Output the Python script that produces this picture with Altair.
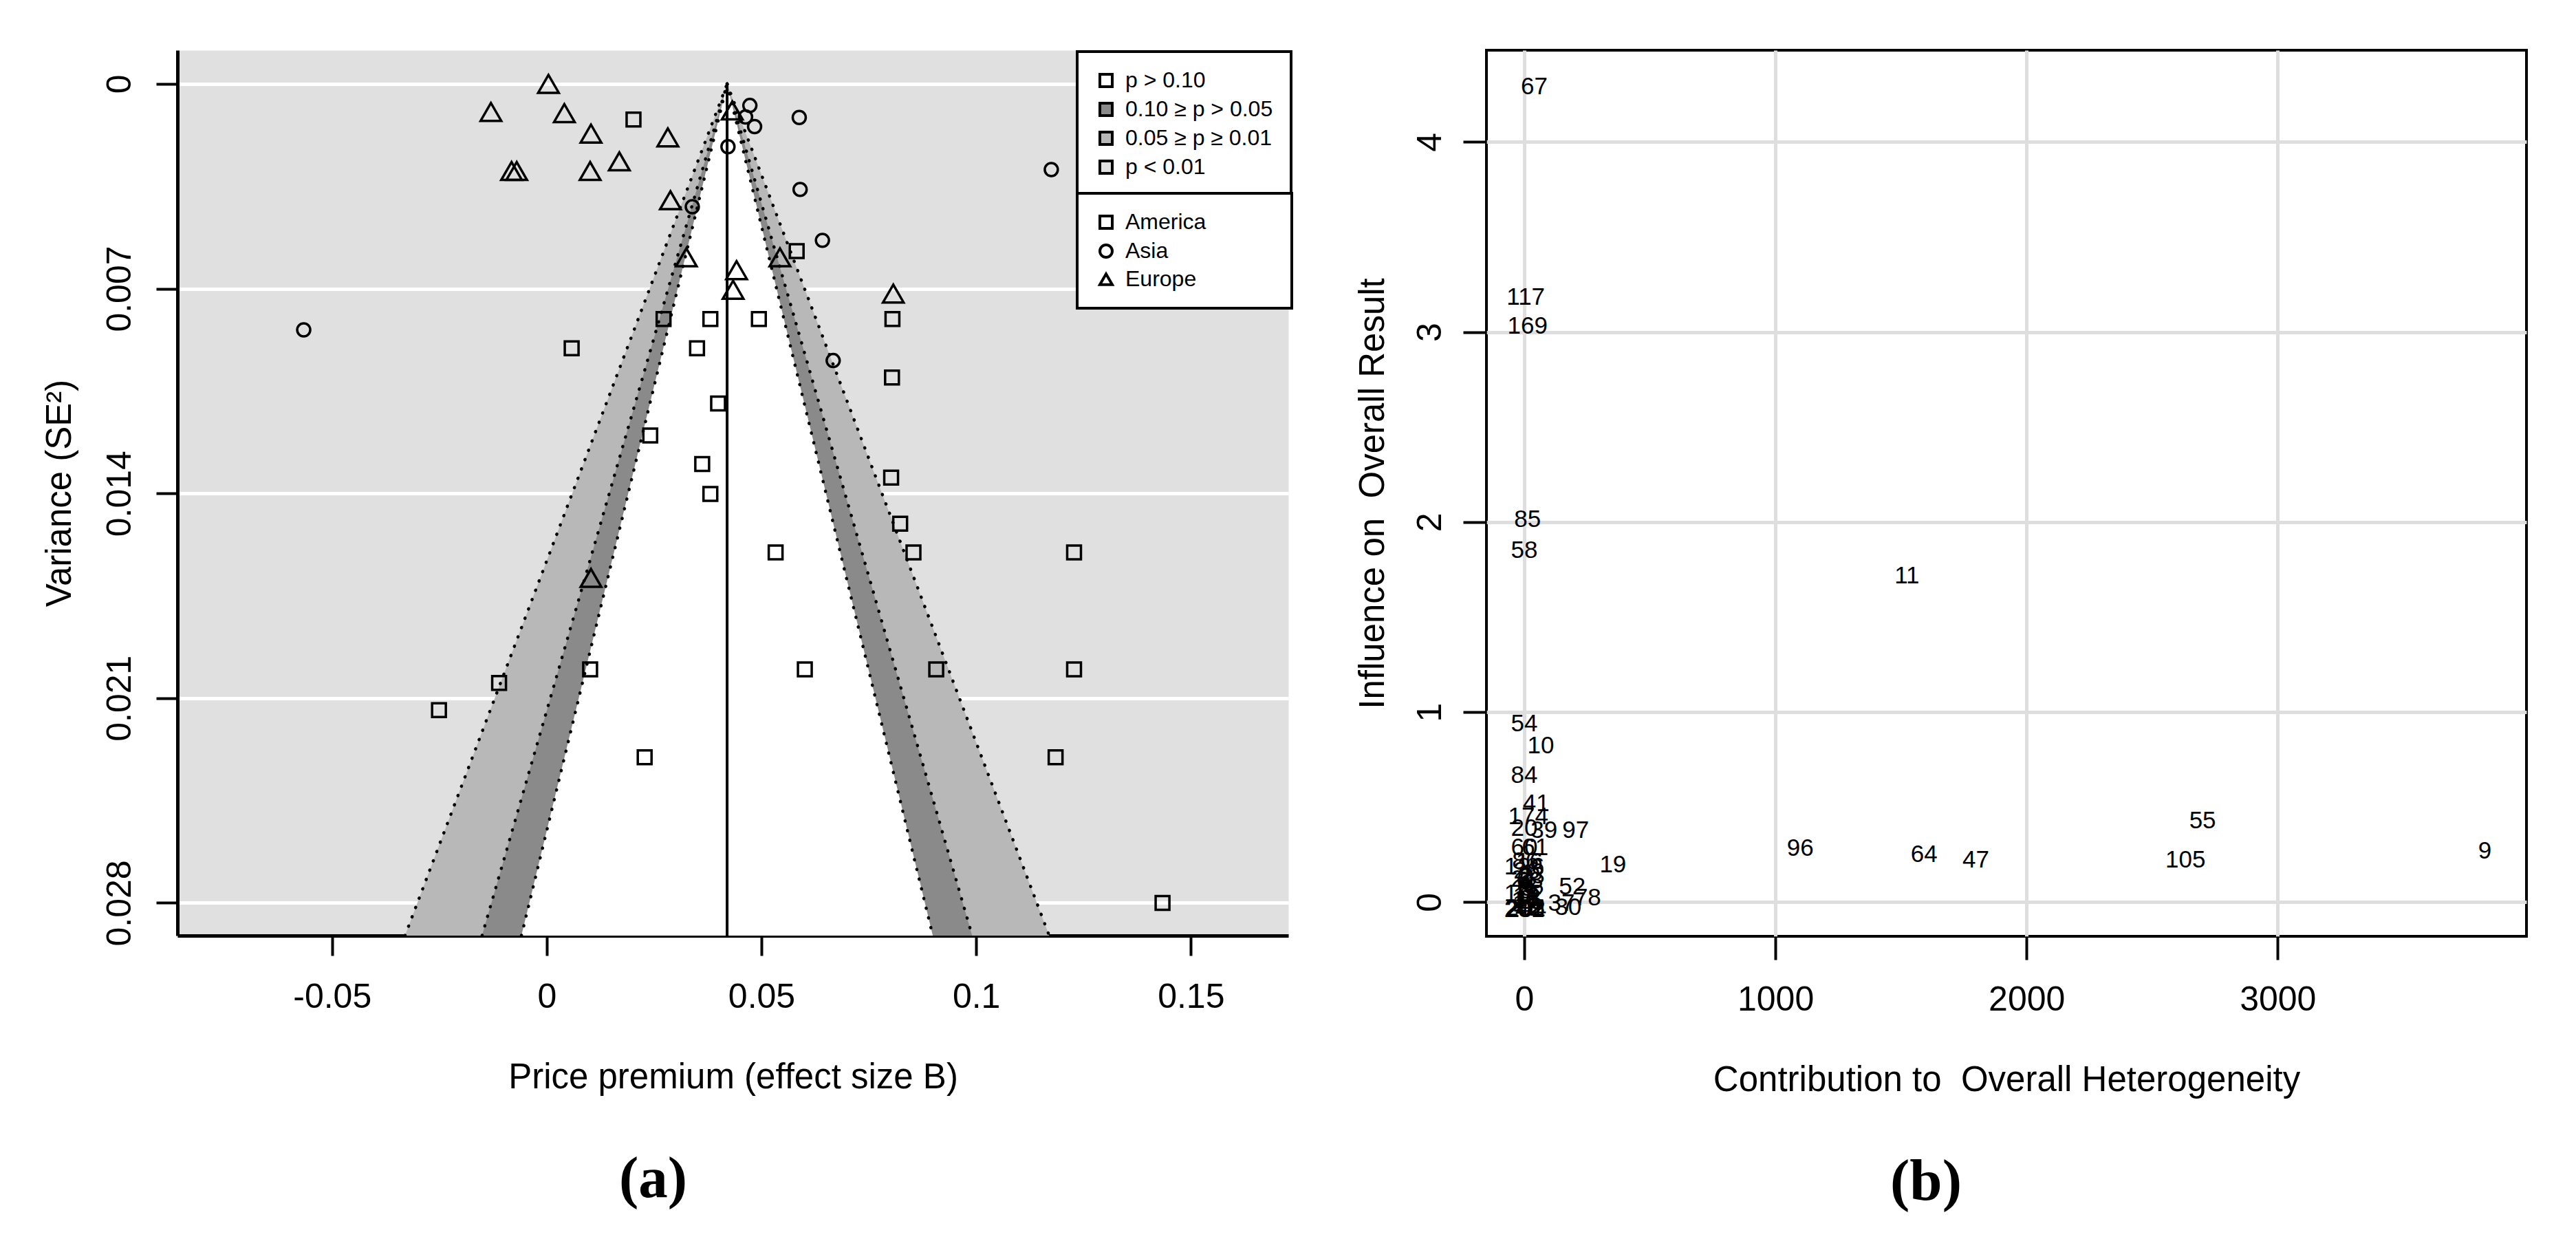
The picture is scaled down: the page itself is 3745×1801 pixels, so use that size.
import altair as alt
import pandas as pd

FONT = "Liberation Sans"

# ---------------- Panel (a): contour-enhanced funnel plot ----------------
FUNNEL_CENTER = 0.042
Z_CONTOURS = [2.576, 1.96, 1.645]
CONTOUR_BANDS = ["0.05 ≥ p ≥ 0.01", "0.10 ≥ p > 0.05", "p > 0.10"]
BAND_LEGEND = ["p > 0.10", "0.10 ≥ p > 0.05", "0.05 ≥ p ≥ 0.01", "p < 0.01"]
BAND_COLORS = ["#ffffff", "#8a8a8a", "#b8b8b8", "#e0e0e0"]
REGIONS = ["America", "Asia", "Europe"]
REGION_SHAPES = ["square", "circle", "triangle-up"]
REGION_SIZES = [400, 360, 900]

AMERICA_X = [0.0202, 0.0582, 0.0272, 0.0381, 0.0494, 0.0805, 0.0058, 0.0350, 0.0804,
             0.0399, 0.0241, 0.0362, 0.0381, 0.0802, 0.0823, 0.0533, 0.0854, 0.1228,
             0.0101, 0.0601, 0.0907, 0.1228, -0.0111, -0.0251, 0.0228, 0.1185, 0.1434]
AMERICA_Y = [0.00122, 0.00572, 0.00804, 0.00804, 0.00804, 0.00804, 0.00904, 0.00904, 0.01004,
             0.01093, 0.01202, 0.01300, 0.01402, 0.01346, 0.01504, 0.01602, 0.01602, 0.01602,
             0.02002, 0.02002, 0.02002, 0.02002, 0.02048, 0.02141, 0.02302, 0.02302, 0.02800]
ASIA_X = [0.0473, 0.0463, 0.0484, 0.0588, 0.0422, 0.1175, 0.0590, 0.0339, 0.0642, -0.0566, 0.0667]
ASIA_Y = [0.00074, 0.00113, 0.00146, 0.00115, 0.00215, 0.00293, 0.00361, 0.00420, 0.00535, 0.00841, 0.00946]
EUROPE_X = [0.0004, -0.0130, 0.0041, 0.0103, 0.0282, 0.0169, -0.0082, -0.0070, 0.0101,
            0.0288, 0.0325, 0.0543, 0.0442, 0.0434, 0.0807, 0.0103, 0.0432]
EUROPE_Y = [0.00000, 0.00096, 0.00100, 0.00170, 0.00183, 0.00265, 0.00298, 0.00298, 0.00298,
            0.00398, 0.00593, 0.00593, 0.00637, 0.00704, 0.00717, 0.01689, 0.00091]

X_TICKS = [-0.05, 0, 0.05, 0.1, 0.15]
Y_TICKS = [0, 0.007, 0.014, 0.021, 0.028]
X_DOMAIN = [-0.0860, 0.1727]
Y_DOMAIN = [-0.00115, 0.02912]

# ---------------- Panel (b): Baujat plot ----------------
BAUJAT_LABELS = ["67", "117", "169", "85", "58", "11", "54", "10", "84", "41", "174", "20",
                 "39", "97", "60", "61", "19", "52", "78", "37", "30", "96", "64", "47",
                 "55", "105", "9",
                 "86", "126", "16", "63", "152", "42", "201", "202", "203", "204",
                 "1", "2", "3", "4", "5", "6", "7", "8", "12", "13", "14", "15", "17",
                 "18", "21", "23", "26"]
BAUJAT_X = [40, 6, 13, 13, 0, 1524, 0, 66, 0, 47, 16, 0,
            79, 205, 0, 43, 353, 191, 253, 148, 175, 1099, 1592, 1798,
            2701, 2633, 3825,
            5, 0, 20, 22, 0, 20, 0, 5, 3, 8,
            10, 5, 15, 0, 12, 3, 18, 25, 8, 14, 2, 20, 6,
            12, 0, 28, 10]
BAUJAT_Y = [4.29, 3.185, 3.03, 2.015, 1.851, 1.718, 0.937, 0.824, 0.667, 0.517, 0.45, 0.39,
            0.378, 0.378, 0.287, 0.287, 0.197, 0.079, 0.022, -0.008, -0.027, 0.282, 0.251, 0.221,
            0.430, 0.221, 0.270,
            0.215, 0.185, 0.21, 0.112, 0.046, -0.033, -0.04, -0.035, -0.03, -0.04,
            0.15, 0.13, 0.10, 0.09, 0.075, 0.06, 0.05, 0.085, 0.03, 0.02, 0.01, 0.005, -0.01,
            -0.02, 0.12, 0.14, 0.165]
BX_TICKS = [0, 1000, 2000, 3000]
BY_TICKS = [0, 1, 2, 3, 4]
BX_DOMAIN = [-150.6, 3990.7]
BY_DOMAIN = [-0.18, 4.483]

# ---------------- build tables ----------------
c = FUNNEL_CENTER
y_bot = Y_DOMAIN[1]
band_rows, edge_rows = [], []
for z, band in zip(Z_CONTOURS, CONTOUR_BANDS):
    for yv in (0.0, y_bot):
        band_rows.append({"band": band, "y": yv, "xl": c - z * yv, "xr": c + z * yv})
    for side in (-1, 1):
        for yv in (0.0, y_bot):
            edge_rows.append({"edge": f"{z}_{side}", "y": yv, "x": c + side * z * yv})
bands = pd.DataFrame(band_rows)
edges = pd.DataFrame(edge_rows)
center_df = pd.DataFrame({"x": [c], "y": [0.0], "y2": [y_bot]})

region_tables = {
    "America": pd.DataFrame({"x": AMERICA_X, "y": AMERICA_Y, "region": "America"}),
    "Asia": pd.DataFrame({"x": ASIA_X, "y": ASIA_Y, "region": "Asia"}),
    "Europe": pd.DataFrame({"x": EUROPE_X, "y": EUROPE_Y, "region": "Europe"}),
}

baujat = pd.DataFrame({"label": BAUJAT_LABELS, "x": BAUJAT_X, "y": BAUJAT_Y})

# ---------------- panel (a) ----------------
x_scale = alt.Scale(domain=X_DOMAIN, nice=False, zero=False)
y_scale = alt.Scale(domain=Y_DOMAIN, reverse=True, nice=False, zero=False)

common_axis = dict(labelFont=FONT, labelFontSize=50, labelColor="black", labelFlush=False,
                   labelOverlap=False, titleFont=FONT, titleFontSize=51, titleFontWeight="normal",
                   titleColor="black", tickColor="black")

x_axis = alt.Axis(values=X_TICKS, labelExpr="'' + datum.value",
                  title="Price premium (effect size B)", grid=False,
                  domain=True, domainColor="black", domainWidth=5,
                  tickWidth=4, tickSize=29, labelPadding=35, titlePadding=67, **common_axis)
y_axis = alt.Axis(values=Y_TICKS, labelExpr="'' + datum.value", title="Variance (SE²)",
                  grid=True, gridColor="white", gridWidth=5,
                  domain=True, domainColor="black", domainWidth=5,
                  tickWidth=4, tickSize=31, labelAngle=270, labelAlign="center",
                  labelBaseline="bottom", labelPadding=28, titlePadding=36, **common_axis)

fill_scale = alt.Scale(domain=BAND_LEGEND, range=BAND_COLORS)
fill_legend = alt.Legend(orient="none", legendX=1308, legendY=2, title=None, symbolType="square")
shape_scale = alt.Scale(domain=REGIONS, range=REGION_SHAPES)
# widen the region box to match the p-value box (non-breaking spaces kept by a zero-width end char)
pad = "\u00a0" * 11 + "\u200b"
shape_legend = alt.Legend(orient="none", legendX=1308, legendY=208, title=None,
                          labelExpr=f"datum.label + '{pad}'")


def xe(f):
    return alt.X(f"{f}:Q", scale=x_scale, axis=x_axis)


def ye(f):
    return alt.Y(f"{f}:Q", scale=y_scale, axis=y_axis)


band_layers = []
for band in CONTOUR_BANDS:
    band_layers.append(
        alt.Chart(bands[bands["band"] == band]).mark_area(orient="horizontal", clip=True).encode(
            y=ye("y"), x=xe("xl"), x2="xr:Q",
            fill=alt.Fill("band:N", scale=fill_scale, legend=fill_legend),
        )
    )

edge_layer = alt.Chart(edges).mark_line(
    color="black", strokeWidth=4.5, strokeDash=[0.5, 14], strokeCap="round", clip=True
).encode(x=xe("x"), y=ye("y"), detail="edge:N")

center_layer = alt.Chart(center_df).mark_rule(color="black", strokeWidth=4).encode(
    x=xe("x"), y=ye("y"), y2="y2:Q")

point_layers = []
for region, size in zip(REGIONS, REGION_SIZES):
    point_layers.append(
        alt.Chart(region_tables[region]).mark_point(
            filled=False, stroke="black", strokeWidth=3.5, opacity=1, size=size
        ).encode(
            x=xe("x"), y=ye("y"),
            shape=alt.Shape("region:N", scale=shape_scale, legend=shape_legend),
        )
    )

left = alt.layer(*band_layers, edge_layer, center_layer, *point_layers).properties(
    width=1615, height=1287,
    view=alt.ViewBackground(fill="#e0e0e0", stroke="transparent"),
    title=alt.TitleParams("(a)", orient="bottom", anchor="middle", frame="group",
                          font="Liberation Serif", fontSize=85, fontWeight="bold",
                          color="black", dx=-116, offset=82),
)

# ---------------- panel (b) ----------------
bx_axis = alt.Axis(values=BX_TICKS, format="d", title="Contribution to\u00a0 Overall Heterogeneity",
                   grid=True, gridColor="#dedede", gridWidth=5, domain=False,
                   tickWidth=4, tickSize=34, labelPadding=33, titlePadding=67, **common_axis)
by_axis = alt.Axis(values=BY_TICKS, format="d", title="Influence on\u00a0 Overall Result",
                   grid=True, gridColor="#dedede", gridWidth=5, domain=False,
                   tickWidth=4, tickSize=34, labelAngle=270, labelAlign="center",
                   labelBaseline="bottom", labelPadding=23, titlePadding=32, **common_axis)

right = alt.Chart(baujat).mark_text(
    font=FONT, fontSize=35, color="black", align="center", baseline="middle"
).encode(
    x=alt.X("x:Q", scale=alt.Scale(domain=BX_DOMAIN, nice=False, zero=False), axis=bx_axis),
    y=alt.Y("y:Q", scale=alt.Scale(domain=BY_DOMAIN, nice=False, zero=False), axis=by_axis),
    text="label:N",
).properties(
    width=1512, height=1288,
    view=alt.ViewBackground(fill="white", stroke="black", strokeWidth=4),
    title=alt.TitleParams("(b)", orient="bottom", anchor="middle", frame="group",
                          font="Liberation Serif", fontSize=85, fontWeight="bold",
                          color="black", dx=-117, offset=82),
)

chart = alt.hconcat(left, right, spacing=94).properties(
    padding={"left": 52, "top": 63, "right": 5, "bottom": 5}
).configure_legend(
    labelFont=FONT, labelFontSize=32, labelColor="black",
    symbolSize=324, symbolStrokeWidth=4, symbolStrokeColor="black", symbolOpacity=1,
    strokeColor="black", strokeWidth=4, fillColor="white",
    padding=26, rowPadding=8, labelOffset=12, labelLimit=500,
).configure_view(stroke="transparent")

chart.save("out.html", embed_options={"renderer": "svg", "actions": False})
